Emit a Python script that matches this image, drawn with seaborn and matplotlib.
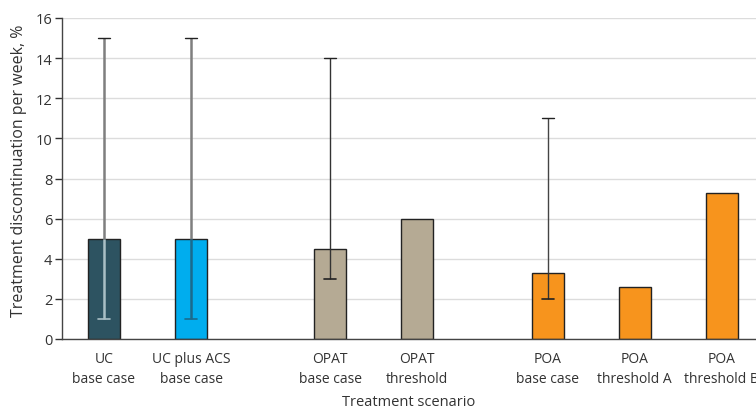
import matplotlib
matplotlib.use("Agg")

import matplotlib.pyplot as plt
import numpy as np
import pandas as pd
import seaborn as sns

# chart data
scenarios = [
    "UC\nbase case",
    "UC plus ACS\nbase case",
    "OPAT\nbase case",
    "OPAT\nthreshold",
    "POA\nbase case",
    "POA\nthreshold A",
    "POA\nthreshold B",
]
slot = [0, 1, 2.6, 3.6, 5.1, 6.1, 7.1]
rate = [5.0, 5.0, 4.5, 6.0, 3.3, 2.6, 7.3]
err_low = [1.0, 1.0, 3.0, np.nan, 2.0, np.nan, np.nan]
err_high = [15.0, 15.0, 14.0, np.nan, 11.0, np.nan, np.nan]
bar_colors = ["#2d5361", "#00adee", "#b5aa94", "#b5aa94",
              "#f7941d", "#f7941d", "#f7941d"]
# colour of the whisker where it runs inside the bar
inner_colors = ["#a9bfc5", "#1b6a8c", "#333333", "#333333",
                "#333333", "#333333", "#333333"]
outer_colors = ["#7f7f7f", "#7f7f7f", "#333333", "#333333",
                "#444444", "#444444", "#444444"]

df = pd.DataFrame({"slot": slot, "rate": rate, "scenario": scenarios})

sns.set_style("white")
plt.rcParams["font.family"] = ["Open Sans", "DejaVu Sans"]

fig = plt.figure(figsize=(7.56, 4.10), dpi=100)
ax = fig.add_axes([62 / 756, 1 - 340 / 410, 1 - 62 / 756, (340 - 19) / 410])

ax.yaxis.grid(True, color="#dcdcdc", linewidth=1.0, zorder=0)
ax.set_axisbelow(True)

sns.barplot(
    data=df, x="slot", y="rate", hue="scenario",
    palette=dict(zip(scenarios, bar_colors)), saturation=1,
    native_scale=True, dodge=False, width=0.37, legend=False,
    edgecolor="#222222", linewidth=1.0, ax=ax, zorder=2,
)

# whiskers: gray above the bar, contrasting colour inside it
cap = 0.07
for x, v, lo, hi, ci, co in zip(slot, rate, err_low, err_high,
                                inner_colors, outer_colors):
    if np.isnan(lo):
        continue
    lw = 1.8 if co == "#7f7f7f" else 1.0
    ax.plot([x, x], [v, hi], color=co, lw=lw, zorder=3, solid_capstyle="butt")
    ax.plot([x, x], [lo, v], color=ci, lw=lw, zorder=3, solid_capstyle="butt")
    ax.plot([x - cap, x + cap], [hi, hi], color="#222222", lw=1.0, zorder=3)
    ax.plot([x - cap, x + cap], [lo, lo], color=ci if ci != "#333333" else "#222222",
            lw=1.2, zorder=3)

ax.set_xlim((62 - 104) / 87, (756 - 104) / 87)
ax.set_ylim(0, 16)
ax.set_yticks(np.arange(0, 17, 2))
ax.set_xticks(slot, scenarios)
ax.tick_params(axis="x", length=0, labelsize=10, colors="#333333", pad=9)
ax.tick_params(axis="y", length=5, width=1, labelsize=10.5, colors="#333333",
               left=True, direction="out", pad=2)
for lab in ax.get_xticklabels():
    lab.set_linespacing(1.45)

for s in ["top", "right"]:
    ax.spines[s].set_visible(False)
for s in ["left", "bottom"]:
    ax.spines[s].set_color("#444444")
    ax.spines[s].set_linewidth(1.0)

ax.set_xlabel("Treatment scenario", fontsize=10.5, color="#333333")
ax.xaxis.set_label_coords(0.5, -0.172)
ax.set_ylabel("Treatment discontinuation per week, %", fontsize=11.5,
              color="#333333")
ax.yaxis.set_label_coords(-0.05, 0.526)

fig.savefig("out.png", dpi=100)
